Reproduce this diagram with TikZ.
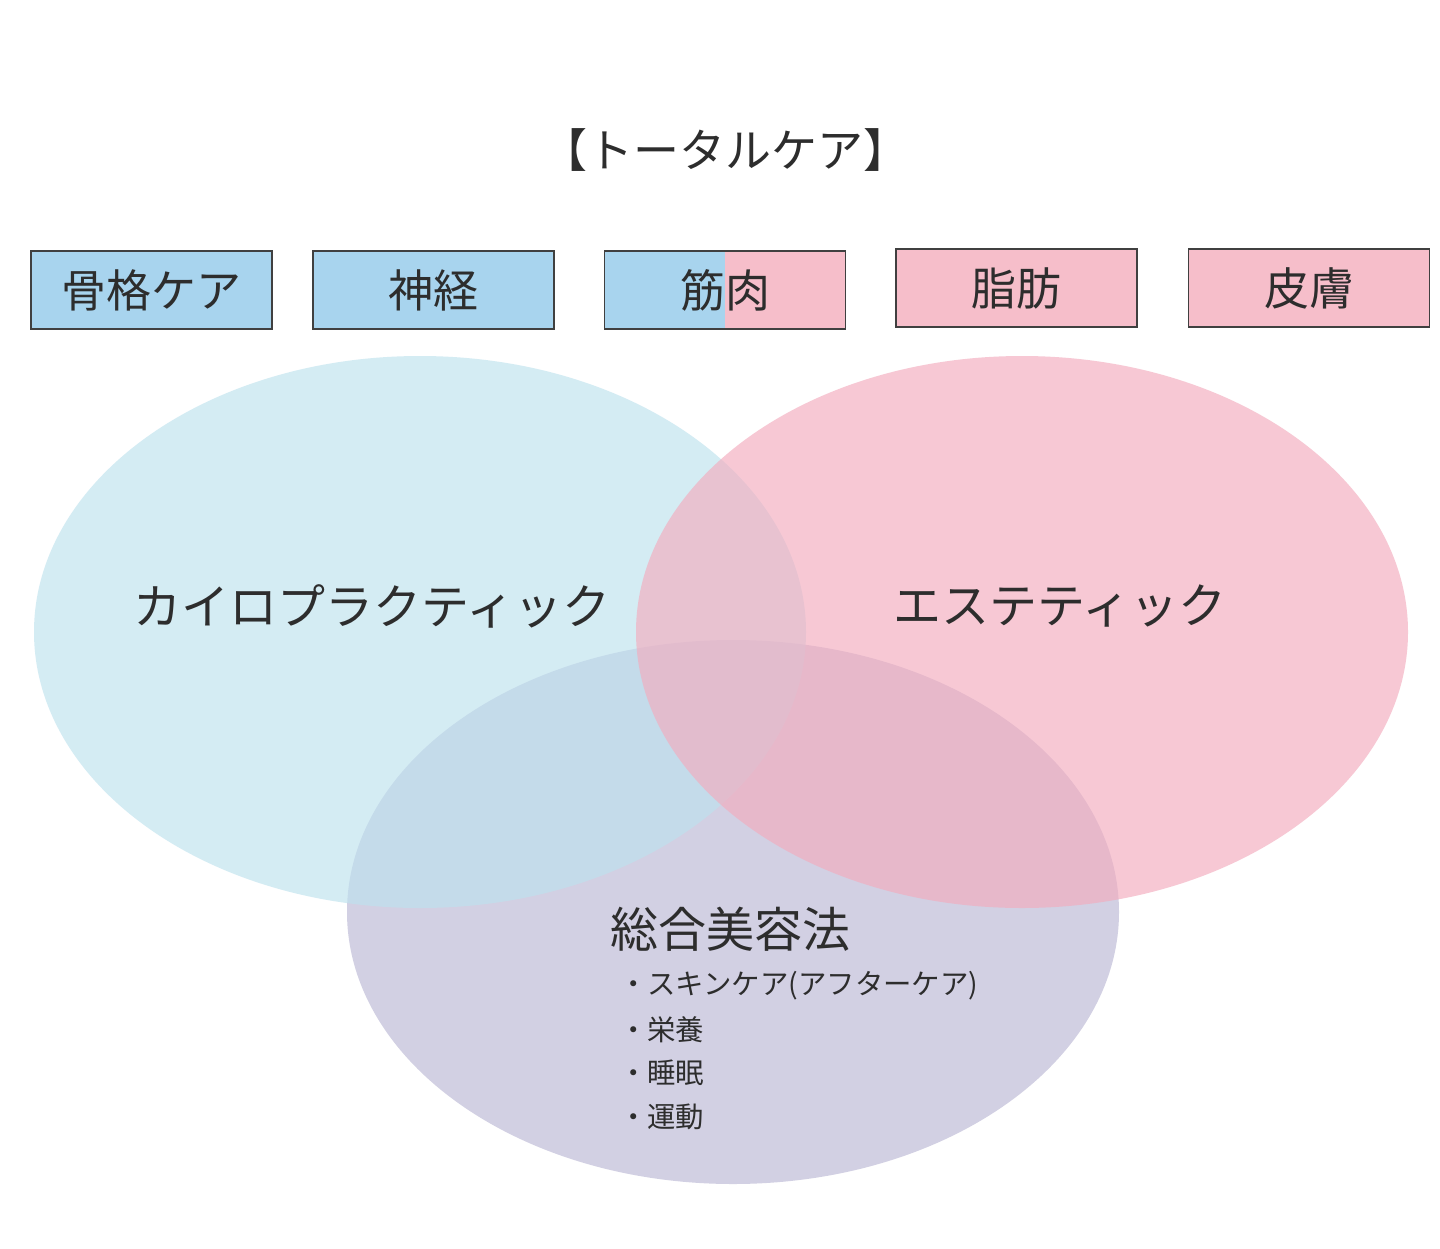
\documentclass[tikz,border=0pt]{standalone}
\usepackage{fontspec}
\newfontfamily\jpfont{Noto Sans CJK JP}
\definecolor{boxblue}{RGB}{168,212,238}
\definecolor{boxpink}{RGB}{246,190,202}
\definecolor{ovblue}{RGB}{190,226,238}
\definecolor{ovpink}{RGB}{243,172,190}
\definecolor{ovpurple}{RGB}{186,183,212}
\definecolor{txt}{RGB}{45,45,45}
\tikzset{
  carebox/.style={draw=black!75, line width=0.6pt, minimum width=120.5pt, minimum height=39pt, inner sep=0pt, font=\jpfont\fontsize{22.5}{26}\selectfont, text=txt},
  field/.style={fill opacity=0.65, draw=none},
  bigtext/.style={font=\jpfont\fontsize{24}{28}\selectfont, text=txt},
  listtext/.style={font=\jpfont\fontsize{14.2}{17}\selectfont, text=txt, anchor=west},
}
\begin{document}
\begin{tikzpicture}[x=0.5pt,y=0.5pt,yscale=-1]
    \useasboundingbox (0,0) rectangle (1440,1248);
    \fill[white] (0,0) rectangle (1440,1248);

    % Title
    \node[font=\jpfont\fontsize{23}{27}\selectfont, text=txt] (title) at (725,150) {【トータルケア】};

    % Shape: Ellipses
    \fill[field, ovpurple] (733,912) ellipse [x radius=386, y radius=272];
    \fill[field, ovblue] (420,632) ellipse [x radius=386, y radius=276];
    \fill[field, ovpink] (1022,632) ellipse [x radius=386, y radius=276];

    % Boxes
    \node[carebox, fill=boxblue] (bone) at (151.5,290) {骨格ケア};
    \node[carebox, fill=boxblue] (nerve) at (433.5,290) {神経};
    \fill[boxblue] (605,251) rectangle (725,329);
    \fill[boxpink] (725,251) rectangle (845,329);
    \node[carebox] (muscle) at (725,290) {筋肉};
    \node[carebox, fill=boxpink] (fat) at (1016.5,288) {脂肪};
    \node[carebox, fill=boxpink] (skin) at (1309,288) {皮膚};

    % Text Node
    \node[bigtext] (chiro) at (372,606) {カイロプラクティック};
    \node[bigtext] (esthe) at (1060,606) {エステティック};
    \node[bigtext] (beauty) at (730,929) {総合美容法};
    \node[listtext] (l1) at (612,986) {・スキンケア(アフターケア)};
    \node[listtext] (l2) at (612,1030) {・栄養};
    \node[listtext] (l3) at (612,1073) {・睡眠};
    \node[listtext] (l4) at (612,1117) {・運動};
\end{tikzpicture}
\end{document}
